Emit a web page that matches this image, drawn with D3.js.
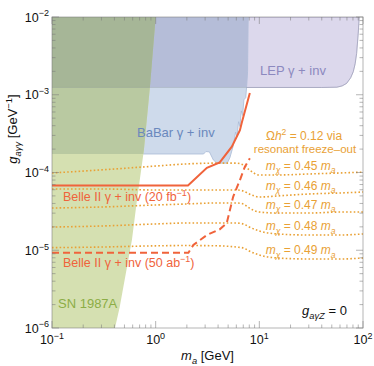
<!DOCTYPE html>
<html><head><meta charset="utf-8">
<script src="https://cdn.jsdelivr.net/npm/d3@7"></script>
<style>
body{margin:0;background:#fff}
text{font-family:"Liberation Sans",Arial,Helvetica,sans-serif}
</style>
</head><body>
<svg id="c" width="374" height="366"></svg>
<script>
// ---------- data ----------
const xDomain = [0.1, 100];
const yDomain = [1e-6, 1e-2];
const xMajorExp = [-1, 0, 1, 2];
const yMajorExp = [-6, -5, -4, -3, -2];
const minorMult = [2, 3, 4, 5, 6, 7, 8, 9];

const snBoundary = [[0.1,1e-2],[1.0,1e-2],[0.88,1.25e-3],[0.77,1.95e-4],[0.66,4.4e-5],[0.59,1.35e-5],[0.45,1.86e-6],[0.405,1e-6],[0.1,1e-6]];
const babarBoundary = [[0.1,1e-2],[0.1,1.73e-4],[2.9,1.73e-4],[3.05,1.86e-4],[3.3,1.84e-4],[3.6,1.45e-4],[3.9,1.32e-4],[4.9,1.32e-4],[5.2,1.55e-4],[5.6,2.2e-4],[5.9,3.3e-4],[6.1,2.9e-4],[6.3,4.5e-4],[6.5,3.9e-4],[6.7,6.2e-4],[6.9,5.4e-4],[7.1,8.6e-4],[7.4,9.2e-4],[7.55,1.3e-3],[7.7,2.0e-3],[7.8,1e-2]];
const lepBoundary = [[0.1,1e-2],[0.1,1.24e-3],[40,1.24e-3],[56,1.25e-3],[63,1.3e-3],[69.5,1.4e-3],[76,1.65e-3],[80.6,1.98e-3],[84,2.5e-3],[86.8,3.4e-3],[90,6.2e-3],[91.9,1e-2]];

const belle20 = [[0.1,6.8e-5],[2.05,6.8e-5],[3.12,1.15e-4],[4.15,1.35e-4],[5.43,2.15e-4],[6.5,3.5e-4],[6.75,4.3e-4],[8.1,1.05e-3]];
const belle50 = [[0.1,9.3e-6],[2.07,9.3e-6],[2.31,1.17e-5],[3.12,1.57e-5],[4.15,1.86e-5],[4.84,2.22e-5],[5.6,4.9e-5],[6.5,8.0e-5],[7.26,1.19e-4],[8.1,1.52e-4]];

const relicMass = [0.1,0.3,1,2,4,6,7,8,10,15,30,60,100];
const relic045 = [9.86e-5,1.08e-4,1.21e-4,1.29e-4,1.32e-4,1.32e-4,1.25e-4,1.08e-4,9.29e-5,9.29e-5,9.57e-5,9.86e-5,1.01e-4];
const relic046 = [6.14e-5,6.14e-5,5.96e-5,5.96e-5,5.96e-5,5.96e-5,5.78e-5,5.29e-5,4.84e-5,4.99e-5,5.29e-5,5.45e-5,5.61e-5];
const relic047 = [3.49e-5,3.60e-5,3.82e-5,3.94e-5,4.06e-5,4.06e-5,3.94e-5,3.49e-5,3.10e-5,3.01e-5,3.01e-5,3.10e-5,3.10e-5];
const relic048 = [1.99e-5,2.05e-5,2.18e-5,2.24e-5,2.24e-5,2.24e-5,2.18e-5,1.99e-5,1.77e-5,1.62e-5,1.57e-5,1.57e-5,1.62e-5];
const relic049 = [1.08e-5,1.10e-5,1.14e-5,1.15e-5,1.14e-5,1.10e-5,1.07e-5,9.77e-6,8.68e-6,7.95e-6,7.72e-6,7.72e-6,7.95e-6];
const relicRatios = ["0.45","0.46","0.47","0.48","0.49"];
const relicSeries = [relic045, relic046, relic047, relic048, relic049];
const relicLabelMass = 25;

// ---------- setup ----------
const svg = d3.select("#c");
const x = d3.scaleLog().domain(xDomain).range([52, 363]);
const y = d3.scaleLog().domain(yDomain).range([328, 17]);
const line = d3.line().x(d => x(d[0])).y(d => y(d[1]));
const smooth = d3.line().x(d => x(d[0])).y(d => y(d[1])).curve(d3.curveMonotoneX);

const defs = svg.append("defs");
defs.append("clipPath").attr("id","plotClip").append("rect")
  .attr("x", x(xDomain[0])).attr("y", y(yDomain[1]))
  .attr("width", x(xDomain[1]) - x(xDomain[0])).attr("height", y(yDomain[0]) - y(yDomain[1]));
defs.append("clipPath").attr("id","babarClip").append("path").attr("d", line(babarBoundary)+"Z");
defs.append("clipPath").attr("id","lepClip").append("path").attr("d", line(lepBoundary)+"Z");

const plot = svg.append("g").attr("clip-path","url(#plotClip)");

// regions
plot.append("path").attr("d", line(lepBoundary)+"Z").attr("fill","#dcd8ec").attr("stroke","#aaa6cc").attr("stroke-width",0.8);
plot.append("path").attr("d", line(babarBoundary)+"Z").attr("fill","#cedaeb").attr("stroke","#a9bad6").attr("stroke-width",0.8);
plot.append("path").attr("d", line(snBoundary)+"Z").attr("fill","#d5e0b1");
plot.append("g").attr("clip-path","url(#babarClip)")
  .append("path").attr("d", line(lepBoundary)+"Z").attr("fill","#b5bdd8");
plot.append("g").attr("clip-path","url(#babarClip)")
  .append("path").attr("d", line(snBoundary)+"Z").attr("fill","#b9c9a1");
plot.append("g").attr("clip-path","url(#babarClip)")
  .append("g").attr("clip-path","url(#lepClip)")
  .append("path").attr("d", line(snBoundary)+"Z").attr("fill","#a6b697");
plot.append("path").attr("d", line(lepBoundary.slice(1))).attr("fill","none").attr("stroke","#8f9a9a").attr("stroke-opacity",0.35).attr("stroke-width",0.8);

// relic curves
const orange = "#e9a135";
relicSeries.forEach(s => {
  plot.append("path").attr("d", smooth(relicMass.map((m,i)=>[m,s[i]])))
    .attr("fill","none").attr("stroke",orange).attr("stroke-width",1.6)
    .attr("stroke-dasharray","1.6,2.2");
});

// Belle II
const red = "#f0633b";
plot.append("path").attr("d", line(belle20)).attr("fill","none").attr("stroke",red).attr("stroke-width",2);
plot.append("path").attr("d", line(belle50)).attr("fill","none").attr("stroke",red).attr("stroke-width",2).attr("stroke-dasharray","7,4");

// ---------- frame & ticks ----------
const frameCol = "#7a7a7a";
const fx0 = x(xDomain[0]), fx1 = x(xDomain[1]), fy0 = y(yDomain[0]), fy1 = y(yDomain[1]);
const axes = svg.append("g").attr("stroke",frameCol).attr("stroke-opacity",0.55).attr("fill","none");
axes.append("rect").attr("x",fx0).attr("y",fy1).attr("width",fx1-fx0).attr("height",fy0-fy1).attr("stroke-width",1);

const xTicksAll = [], yTicksAll = [];
xMajorExp.forEach((e,i) => {
  xTicksAll.push({v:Math.pow(10,e), major:true});
  if (i < xMajorExp.length-1) minorMult.forEach(k => xTicksAll.push({v:k*Math.pow(10,e), major:false}));
});
yMajorExp.forEach((e,i) => {
  yTicksAll.push({v:Math.pow(10,e), major:true});
  if (i < yMajorExp.length-1) minorMult.forEach(k => yTicksAll.push({v:k*Math.pow(10,e), major:false}));
});
xTicksAll.forEach(t => {
  const L = t.major ? 7 : 3.5, px = x(t.v);
  axes.append("line").attr("x1",px).attr("x2",px).attr("y1",fy0).attr("y2",fy0-L);
  axes.append("line").attr("x1",px).attr("x2",px).attr("y1",fy1).attr("y2",fy1+L);
});
yTicksAll.forEach(t => {
  const L = t.major ? 7 : 3.5, py = y(t.v);
  axes.append("line").attr("y1",py).attr("y2",py).attr("x1",fx0).attr("x2",fx0+L);
  axes.append("line").attr("y1",py).attr("y2",py).attr("x1",fx1).attr("x2",fx1-L);
});

// rich text helper
function rich(sel, parts, size){
  let cur = 0;
  parts.forEach(p => {
    const small = p.sub || p.sup;
    const shift = p.sub ? size*0.28 : p.sup ? -size*0.42 : 0;
    sel.append("tspan").attr("dy", shift - cur)
      .attr("font-size", small ? size*0.72 : size)
      .attr("font-style", p.it ? "italic" : null)
      .text(p.t);
    cur = shift;
  });
  return sel;
}

// tick labels
xMajorExp.forEach(e => {
  const t = svg.append("text").attr("x", x(Math.pow(10,e))).attr("y", 344)
    .attr("text-anchor","middle").attr("font-size",12.5).attr("fill","#111");
  rich(t, [{t:"10"},{t:e<0?"\u2212"+(-e):""+e, sup:1}], 12.5);
});
yMajorExp.forEach(e => {
  const t = svg.append("text").attr("x", 49).attr("y", y(Math.pow(10,e))+4.5)
    .attr("text-anchor","end").attr("font-size",12.5).attr("fill","#111");
  rich(t, [{t:"10"},{t:"\u2212"+(-e), sup:1}], 12.5);
});

// axis labels
rich(svg.append("text").attr("x", (fx0+fx1)/2).attr("y", 360).attr("text-anchor","middle").attr("font-size",13).attr("fill","#111"),
  [{t:"m",it:1},{t:"a",it:1,sub:1},{t:" [GeV]"}], 13);
rich(svg.append("text").attr("transform","translate(17,129) rotate(-90)").attr("text-anchor","middle").attr("font-size",13).attr("fill","#111"),
  [{t:"g",it:1},{t:"a\u03b3\u03b3",it:1,sub:1},{t:" [GeV"},{t:"\u22121",sup:1},{t:"]"}], 13);

// region labels
svg.append("text").attr("x",260).attr("y",75).attr("font-size",13).attr("fill","#8c89bf").text("LEP \u03b3 + inv");
svg.append("text").attr("x",137).attr("y",137).attr("font-size",13).attr("fill","#6a88bd").text("BaBar \u03b3 + inv");
svg.append("text").attr("x",58).attr("y",308).attr("font-size",13).attr("fill","#8cad45").text("SN 1987A");
rich(svg.append("text").attr("x",63).attr("y",201).attr("font-size",12.5).attr("fill",red),
  [{t:"Belle II \u03b3 + inv (20 fb"},{t:"\u22121",sup:1},{t:")"}], 12.5);
rich(svg.append("text").attr("x",63).attr("y",267).attr("font-size",12.5).attr("fill",red),
  [{t:"Belle II \u03b3 + inv (50 ab"},{t:"\u22121",sup:1},{t:")"}], 12.5);

// relic annotation
rich(svg.append("text").attr("x",304).attr("y",140).attr("text-anchor","middle").attr("font-size",12).attr("fill",orange),
  [{t:"\u03a9"},{t:"h",it:1},{t:"2",sup:1},{t:" = 0.12 via"}], 12);
svg.append("text").attr("x",305).attr("y",153).attr("text-anchor","middle").attr("font-size",11.5).attr("fill",orange).text("resonant freeze\u2013out");

relicSeries.forEach((s,i) => {
  const gv = d3.scaleLog().domain(relicMass).range(s)(relicLabelMass);
  const t = svg.append("text").attr("x", x(relicLabelMass)).attr("y", y(gv) - 4.5)
    .attr("text-anchor","middle").attr("font-size",12).attr("fill",orange);
  rich(t, [{t:"m",it:1},{t:"\u03c7",it:1,sub:1},{t:" = "+relicRatios[i]+" "},{t:"m",it:1},{t:"a",it:1,sub:1}], 12);
});

rich(svg.append("text").attr("x",302).attr("y",315).attr("font-size",13).attr("fill","#111"),
  [{t:"g",it:1},{t:"a\u03b3Z",it:1,sub:1},{t:" = 0"}], 13);
</script>
</body></html>
